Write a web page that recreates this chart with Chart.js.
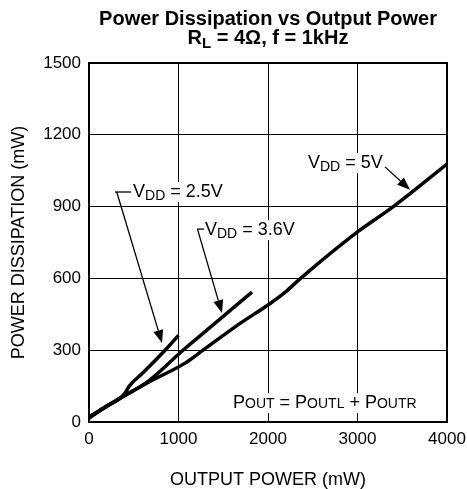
<!DOCTYPE html>
<html>
<head>
<meta charset="utf-8">
<script src="https://cdn.jsdelivr.net/npm/chart.js@4"></script>
<style>
  body { margin: 0; background: #fff; }
  canvas { display: block; }
</style>
</head>
<body>
<canvas id="chart" width="467" height="489"></canvas>
<script>
// output power (mW) / power dissipation (mW)
const pout25 = [0, 180, 350, 400, 450, 600, 850, 1000];
const pdis25 = [20, 63, 100, 120, 150, 205, 300, 362];

const pout36 = [0, 180, 370, 660, 1050, 1400, 1821];
const pdis36 = [20, 63, 105, 170, 300, 410, 543];

const pout50 = [0, 180, 370, 660, 1073, 1274, 1700, 2000, 2200, 2358, 3000, 3400, 4000];
const pdis50 = [16, 60, 103, 165, 246, 300, 415, 489, 545, 598, 794, 900, 1078];

const xTicks = [0, 1000, 2000, 3000, 4000];
const yTicks = [0, 300, 600, 900, 1200, 1500];

const FONT = "'Liberation Sans', Arial, sans-serif";

function toPoints(xs, ys) {
  return xs.map((x, i) => ({ x, y: ys[i] }));
}

function series(xs, ys) {
  return {
    data: toPoints(xs, ys),
    borderColor: '#000',
    borderWidth: 3.5,
    pointRadius: 0,
    fill: false,
    cubicInterpolationMode: 'monotone'
  };
}

// draws a run of [text, size, dy] pieces, returns total width
function drawRuns(ctx, x, y, runs, bold, clear) {
  let cx = x;
  const widths = runs.map(r => {
    ctx.font = (bold ? 'bold ' : '') + r[1] + 'px ' + FONT;
    return ctx.measureText(r[0]).width;
  });
  const total = widths.reduce((a, b) => a + b, 0);
  if (clear) {
    ctx.fillStyle = '#fff';
    ctx.fillRect(x - 2, y - 15, total + 4, 20);
  }
  ctx.fillStyle = '#000';
  runs.forEach((r, i) => {
    ctx.font = (bold ? 'bold ' : '') + r[1] + 'px ' + FONT;
    ctx.fillText(r[0], cx, y + r[2]);
    cx += widths[i];
  });
  return total;
}

function arrow(ctx, x1, y1, x2, y2) {
  const ang = Math.atan2(y2 - y1, x2 - x1);
  const len = 13, half = 5;
  ctx.beginPath();
  ctx.moveTo(x1, y1);
  ctx.lineTo(x2 - Math.cos(ang) * len, y2 - Math.sin(ang) * len);
  ctx.stroke();
  ctx.beginPath();
  ctx.moveTo(x2, y2);
  ctx.lineTo(x2 - Math.cos(ang) * len - Math.sin(ang) * half, y2 - Math.sin(ang) * len + Math.cos(ang) * half);
  ctx.lineTo(x2 - Math.cos(ang) * len + Math.sin(ang) * half, y2 - Math.sin(ang) * len - Math.cos(ang) * half);
  ctx.closePath();
  ctx.fill();
}

const annotations = {
  id: 'annotations',
  beforeDatasetsDraw(chart) {
    const { ctx, scales: { x, y } } = chart;
    ctx.save();
    ctx.textBaseline = 'alphabetic';
    ctx.textAlign = 'left';
    // labels sit on white, breaking the grid
    drawRuns(ctx, x.getPixelForValue(2447), y.getPixelForValue(1061),
      [['V', 18, 0], ['DD', 14, 3], [' = 5V', 18, 0]], false, true);
    drawRuns(ctx, x.getPixelForValue(492), y.getPixelForValue(940),
      [['V', 18, 0], ['DD', 14, 3], [' = 2.5V', 18, 0]], false, true);
    drawRuns(ctx, x.getPixelForValue(1296), y.getPixelForValue(781),
      [['V', 18, 0], ['DD', 14, 3], [' = 3.6V', 18, 0]], false, true);
    drawRuns(ctx, x.getPixelForValue(1609), y.getPixelForValue(58),
      [['P', 18, 0], ['OUT', 14, 0], [' = ', 18, 0], ['P', 18, 0], ['OUTL', 14, 0],
       [' + ', 18, 0], ['P', 18, 0], ['OUTR', 14, 0]], false, true);
    ctx.restore();
  },
  afterDraw(chart) {
    const { ctx, chartArea: a, scales: { x, y } } = chart;
    ctx.save();
    ctx.strokeStyle = '#000';
    ctx.fillStyle = '#000';

    // frame
    ctx.lineWidth = 2;
    ctx.strokeRect(a.left, a.top, a.right - a.left, a.bottom - a.top);

    // leaders + arrows
    ctx.lineWidth = 1.3;
    const px = v => x.getPixelForValue(v), py = v => y.getPixelForValue(v);
    ctx.beginPath();
    ctx.moveTo(px(290), py(961)); ctx.lineTo(px(470), py(961)); ctx.stroke();
    arrow(ctx, px(310), py(961), px(816), py(330));
    ctx.beginPath();
    ctx.moveTo(px(1207), py(806)); ctx.lineTo(px(1285), py(806)); ctx.stroke();
    arrow(ctx, px(1212), py(806), px(1486), py(455));
    arrow(ctx, px(3307), py(1066), px(3587), py(970));

    // titles
    ctx.textBaseline = 'alphabetic';
    const cx = (a.left + a.right) / 2;
    ctx.font = 'bold 20px ' + FONT;
    ctx.textAlign = 'center';
    ctx.fillText('Power Dissipation vs Output Power', cx, 25);
    ctx.textAlign = 'left';
    const runs = [['R', 20, 0], ['L', 15, 4], [' = 4Ω, f = 1kHz', 20, 0]];
    let w = 0;
    runs.forEach(r => { ctx.font = 'bold ' + r[1] + 'px ' + FONT; w += ctx.measureText(r[0]).width; });
    drawRuns(ctx, cx - w / 2, 44, runs, true, false);

    ctx.font = '18px ' + FONT;
    ctx.textAlign = 'center';
    ctx.fillText('OUTPUT POWER (mW)', cx, 485);
    ctx.translate(24, (a.top + a.bottom) / 2);
    ctx.rotate(-Math.PI / 2);
    ctx.fillText('POWER DISSIPATION (mW)', 0, 0);
    ctx.restore();
  }
};

new Chart(document.getElementById('chart'), {
  type: 'line',
  data: {
    datasets: [series(pout25, pdis25), series(pout36, pdis36), series(pout50, pdis50)]
  },
  options: {
    responsive: false,
    animation: false,
    layout: { padding: { top: 63, right: 0, left: 0, bottom: 0 } },
    plugins: { legend: { display: false }, tooltip: { enabled: false } },
    scales: {
      x: {
        type: 'linear',
        min: 0,
        max: 4000,
        afterFit(s) { s.height = 67; s.paddingRight = 20; },
        afterBuildTicks(s) { s.ticks = xTicks.map(v => ({ value: v })); },
        grid: { color: '#000', lineWidth: 1, drawTicks: false },
        border: { color: '#000', width: 2 },
        ticks: { color: '#000', padding: 7, maxRotation: 0, font: { family: FONT, size: 17 },
          callback: v => String(v) }
      },
      y: {
        min: 0,
        max: 1500,
        afterFit(s) { s.width = 89; },
        afterBuildTicks(s) { s.ticks = yTicks.map(v => ({ value: v })); },
        grid: { color: '#000', lineWidth: 1, drawTicks: false },
        border: { color: '#000', width: 2 },
        ticks: { color: '#000', padding: 8, font: { family: FONT, size: 17 },
          callback: v => String(v) }
      }
    }
  },
  plugins: [annotations]
});
</script>
</body>
</html>
